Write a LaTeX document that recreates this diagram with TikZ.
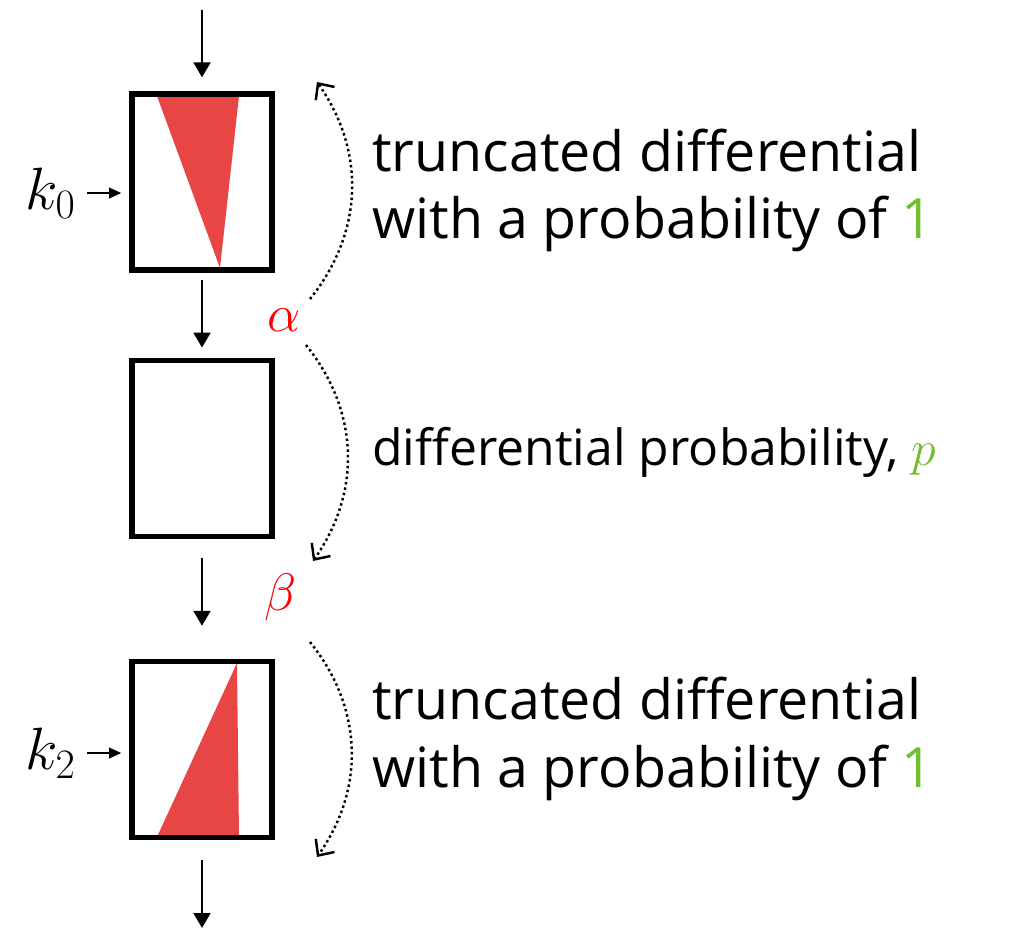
\RequirePackage{fix-cm}
\documentclass[tikz,border=0pt]{standalone}
\usepackage{fontspec}
\setmainfont{Open Sans}
\usetikzlibrary{positioning,arrows.meta}
\definecolor{tri}{RGB}{232,69,69}
\definecolor{prob}{RGB}{112,190,50}

\begin{document}
\begin{tikzpicture}[x=0.02cm, y=-0.02cm,
  box/.style={draw, line width=3pt, minimum width=2.8cm, minimum height=3.52cm, inner sep=0pt},
  flow/.style={-{Triangle[length=8.5pt,width=9.5pt]}, line width=1.6pt},
  keyin/.style={-{Triangle[length=7pt,width=6pt]}, line width=1.2pt},
  hop/.style={line width=1.4pt, dash pattern=on 1.4pt off 1.7pt,
    -{Straight Barb[length=7pt,width=13pt,line width=1.4pt]}},
  txt/.style={align=left, inner sep=0pt, font=\fontsize{31.6}{38.5}\selectfont},
  sym/.style={inner sep=0pt, font=\fontsize{30}{36}\selectfont}]
  \useasboundingbox (0,0) rectangle (1009,929);
  % red parts of the rounds
  \fill[tri] (157,96) -- (239,96) -- (220,268) -- cycle;
  \fill[tri] (237,663) -- (239,837) -- (157,837) -- cycle;
  % rounds
  \node[box] (box1) at (202,182) {};
  \node[box, below=1.7cm of box1] (box2) {};
  \node[box, below=2.4cm of box2] (box3) {};
  % round keys
  \node[sym, anchor=east, font=\fontsize{34}{40}\selectfont] (k0) at (76,193) {$k_0$};
  \node[sym, anchor=east, font=\fontsize{34}{40}\selectfont] (k2) at (76,753) {$k_2$};
  % differences
  \node[sym, text=red] (alpha) at (284,320) {$\alpha$};
  \node[sym, text=red] (beta) at (281,597) {$\beta$};
  % descriptions
  \node[txt, anchor=base west] (trunc1) at (372,239) {truncated differential\\with a probability of \textcolor{prob}{1}};
  \node[txt, anchor=base west, font=\fontsize{28.4}{34}\selectfont] (diff) at (372,466) {differential probability, \textcolor{prob}{$p$}};
  \node[txt, anchor=base west] (trunc2) at (372,787) {truncated differential\\with a probability of \textcolor{prob}{1}};
  % ends of the data path
  \coordinate (in) at (202,10);
  \coordinate (out) at (202,928);
  % ends of the dotted arcs
  \coordinate (a0) at (310,299); \coordinate (a1) at (317,82);
  \coordinate (b0) at (306,345); \coordinate (b1) at (313,561);
  \coordinate (c0) at (310,642); \coordinate (c1) at (317,857);

  % Data path
  \draw[flow, shorten >=0.28cm] (in) -- (in |- box1.north);
  \draw[flow, shorten <=0.14cm, shorten >=0.2cm] (box1) -- (box2);
  \draw[flow, shorten <=0.38cm, shorten >=0.66cm] (box2) -- (box3);
  \draw[flow, shorten <=0.4cm] (box3) -- (box3 |- out);
  \draw[keyin, shorten <=0.22cm, shorten >=0.16cm] (k0) -- (k0 -| box1.west);
  \draw[keyin, shorten <=0.22cm, shorten >=0.16cm] (k2) -- (k2 -| box3.west);
  % Arcs
  \draw[hop] (a0) to[bend right=37] (a1);
  \draw[hop] (b0) to[bend left=37] (b1);
  \draw[hop] (c0) to[bend left=37] (c1);
\end{tikzpicture}
\end{document}
